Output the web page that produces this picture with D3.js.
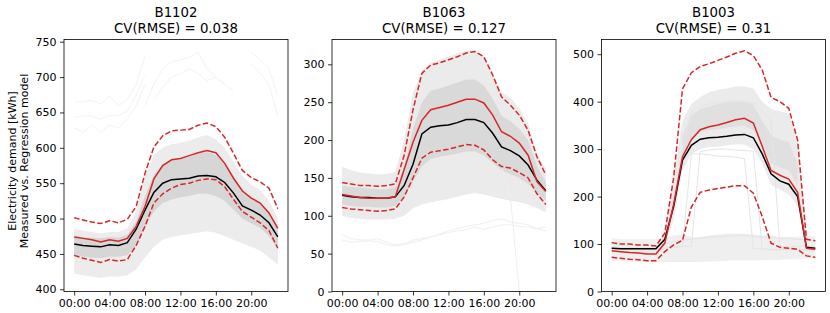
<!DOCTYPE html>
<html><head><meta charset="utf-8">
<script src="https://cdn.jsdelivr.net/npm/d3@7"></script>
<style>
body{margin:0;background:#fff}
svg{display:block}
text{font-family:"DejaVu Sans",sans-serif;fill:#000}
</style>
</head><body><svg id="c" width="830" height="313"></svg>
<script>
// ---------- data ----------
const hours = [0,1,2,3,4,5,6,7,8,9,10,11,12,13,14,15,16,17,18,19,20,21,22,23];
const xTickHours = [0,4,8,12,16,20];
const xTickLabels = ["00:00","04:00","08:00","12:00","16:00","20:00"];
const buildings = ["B1102","B1063","B1003"];
const cvrmse = ["0.038","0.127","0.31"];
const yLabelLines = ["Electricity demand [kWh]","Measured vs. Regression model"];

const yTicksB1102 = [400,450,500,550,600,650,700,750];
const yTicksB1063 = [0,50,100,150,200,250,300];
const yTicksB1003 = [0,100,200,300,400,500];

// B1102
const measuredB1102 = [464,462,461,460,463,462,466,485,512,537,550,555,556,557,560,561,559,551,536,518,512,505,494,474];
const modelB1102    = [474,472,470,467,470,468,472,489,517,556,575,583,585,589,593,596,593,578,557,539,529,522,508,486];
const upperB1102    = [501,498,495,493,497,494,499,517,564,601,617,624,625,626,632,635,630,615,592,568,558,552,543,514];
const lowerB1102    = [448,444,441,438,442,440,442,462,489,522,535,543,548,550,554,556,555,545,527,510,502,494,483,458];
const cloudLoB1102  = [422,420,418,416,418,418,420,428,445,460,470,474,476,478,480,482,480,475,470,465,460,455,445,435];
const cloudHiB1102  = [486,483,481,479,481,481,486,510,560,590,600,605,607,610,615,618,612,600,580,560,548,540,525,500];
const coreLoB1102   = [448,446,445,444,446,446,448,462,488,510,522,527,530,532,535,535,532,525,512,500,493,487,475,458];
const coreHiB1102   = [476,474,473,472,474,473,477,496,532,562,577,582,584,587,592,594,590,577,557,540,530,523,509,489];
const outlier1B1102 = [665,665,667,662,673,660,668,690,730,null,null,null,null,null,null,null,null,null,null,null,null,null,null,null];
const outlier2B1102 = [643,645,645,640,646,645,652,675,702,null,null,null,null,null,null,null,null,null,null,null,null,null,null,null];
const outlier3B1102 = [628,622,632,622,632,628,640,660,690,null,null,null,null,null,null,null,null,null,null,null,null,null,null,null];
const outlier4B1102 = [null,null,null,null,null,null,null,null,660,690,712,722,724,728,735,712,700,690,null,null,null,null,null,null];
const outlier5B1102 = [null,null,null,null,null,null,null,null,null,668,685,700,705,712,705,695,700,690,680,null,null,null,null,null];
const outlier6B1102 = [null,null,null,null,null,null,null,null,null,null,null,null,null,null,null,null,null,null,null,null,735,725,712,672];
const outlier7B1102 = [null,null,null,null,null,null,null,null,null,null,null,null,null,null,null,null,null,null,null,null,718,705,690,645];

// B1063
const measuredB1063 = [127,125,124,124,123,123,125,140,168,208,217,219,220,223,227,227,223,209,191,186,179,167,147,133];
const modelB1063    = [128,126,124,123,123,123,125,161,197,226,240,243,246,250,254,254,249,233,211,205,196,180,145,132];
const upperB1063    = [144,142,140,140,139,140,142,180,240,288,299,302,306,310,315,317,310,286,257,246,233,213,178,154];
const lowerB1063    = [111,109,108,107,106,107,109,125,150,176,184,186,188,191,194,193,187,174,165,163,157,150,129,115];
const cloudLoB1063  = [100,97,96,95,95,95,96,100,110,115,118,120,122,125,128,130,128,125,122,120,118,115,110,105];
const cloudHiB1063  = [165,160,157,156,155,155,158,200,262,292,302,306,310,315,318,318,310,286,263,256,242,222,182,162];
const coreLoB1063   = [115,113,112,112,111,111,113,125,145,165,175,178,180,182,185,185,180,170,160,155,150,142,130,120];
const coreHiB1063   = [140,138,137,136,135,135,138,165,215,250,265,268,272,276,280,280,272,255,232,225,215,200,165,145];
const outlier1B1063 = [75,70,68,68,70,65,62,63,68,70,72,75,78,80,82,85,82,85,88,88,86,85,83,85];
const outlier2B1063 = [68,65,66,67,66,62,60,62,65,68,72,76,80,83,86,88,90,94,96,92,90,88,83,80];
const outlier3B1063 = [null,null,null,null,null,null,null,null,null,null,null,null,null,null,null,null,null,null,165,125,0,null,null,null];

// B1003
const measuredB1003 = [91,90,90,90,90,90,110,179,277,308,321,324,325,327,330,331,324,290,248,233,226,200,93,91];
const modelB1003    = [86,84,82,81,79,79,102,184,284,320,341,347,351,356,362,365,355,306,255,245,237,209,91,89];
const upperB1003    = [103,100,100,98,98,96,123,240,427,461,474,480,487,494,502,507,497,467,409,400,386,319,110,107];
const lowerB1003    = [72,70,68,67,65,65,84,98,108,178,209,214,217,220,223,223,207,158,102,93,91,89,75,72];
const lowLoB1003    = [65,64,63,62,62,62,62,62,62,62,62,63,64,65,65,65,65,66,66,67,68,68,70,72];
const lowHiB1003    = [112,110,110,110,110,110,115,118,120,115,115,118,120,122,122,122,120,118,118,115,115,115,118,115];
const cloudLoB1003  = [null,null,null,null,null,null,100,150,255,290,300,305,305,308,310,310,300,270,225,215,205,180,95,null];
const cloudHiB1003  = [null,null,null,null,null,null,125,240,360,395,410,420,425,428,432,432,428,400,385,380,375,320,115,null];
const coreLoB1003   = [null,null,null,null,null,null,null,null,285,320,335,340,342,345,348,348,340,310,270,262,255,225,null,null];
const coreHiB1003   = [null,null,null,null,null,null,null,null,330,370,385,390,395,398,400,400,395,360,330,320,315,270,null,null];
const outlier1B1003 = [90,90,88,88,88,88,92,95,95,95,295,298,300,300,298,297,296,90,88,88,90,90,88,88];
const outlier2B1003 = [95,92,92,92,92,92,110,200,300,380,390,395,398,400,402,400,398,380,360,95,95,95,95,95];
const outlier3B1003 = [85,85,84,84,84,84,90,92,95,290,290,288,285,285,283,280,90,90,88,88,88,88,87,86];
const outlier4B1003 = [100,98,97,97,97,97,100,105,108,110,112,115,115,117,118,118,116,115,114,112,112,110,108,106];

// ---------- layout ----------
const panelLefts = [64, 332, 601.5];
const panelW = 224, plotTop = 39.5, plotBottom = 291.5;
const yDomains = [[396.9, 753.1], [0, 332.8], [0, 531]];
const xDomain = [-1.15, 24.15];

const panels = [
  {name: buildings[0], cv: cvrmse[0], yTicks: yTicksB1102, measured: measuredB1102, model: modelB1102, upper: upperB1102, lower: lowerB1102,
   bands: [[cloudLoB1102, cloudHiB1102, "#ececec"], [coreLoB1102, coreHiB1102, "#d6d6d6"]],
   outliers: [outlier1B1102, outlier2B1102, outlier3B1102, outlier4B1102, outlier5B1102, outlier6B1102, outlier7B1102],
   outlierColor: "#f3f3f3"},
  {name: buildings[1], cv: cvrmse[1], yTicks: yTicksB1063, measured: measuredB1063, model: modelB1063, upper: upperB1063, lower: lowerB1063,
   bands: [[cloudLoB1063, cloudHiB1063, "#ebebeb"], [coreLoB1063, coreHiB1063, "#d9d9d9"]],
   outliers: [outlier1B1063, outlier2B1063, outlier3B1063],
   outlierColor: "#eeeeee"},
  {name: buildings[2], cv: cvrmse[2], yTicks: yTicksB1003, measured: measuredB1003, model: modelB1003, upper: upperB1003, lower: lowerB1003,
   bands: [[lowLoB1003, lowHiB1003, "#efefef"], [cloudLoB1003, cloudHiB1003, "#ebebeb"], [coreLoB1003, coreHiB1003, "#e0e0e0"]],
   outliers: [outlier1B1003, outlier2B1003, outlier3B1003, outlier4B1003],
   outlierColor: "#e4e4e4"}
];

const svg = d3.select("#c");
const red = "#d62728";

panels.forEach((p, i) => {
  const left = panelLefts[i];
  const x = d3.scaleLinear().domain(xDomain).range([left, left + panelW]);
  const y = d3.scaleLinear().domain(yDomains[i]).range([plotBottom, plotTop]);
  const g = svg.append("g");

  const clipId = "clip" + i;
  svg.append("clipPath").attr("id", clipId).append("rect")
    .attr("x", left).attr("y", plotTop).attr("width", panelW).attr("height", plotBottom - plotTop);
  const plot = g.append("g").attr("clip-path", `url(#${clipId})`);

  p.bands.forEach(([lo, hi, col]) => {
    const area = d3.area()
      .defined((d, k) => lo[k] != null && hi[k] != null)
      .x((d, k) => x(hours[k])).y0((d, k) => y(lo[k])).y1((d, k) => y(hi[k]));
    plot.append("path").datum(hours).attr("d", area).attr("fill", col).attr("stroke", "none");
  });

  const line = arr => d3.line()
    .defined((d, k) => arr[k] != null)
    .x((d, k) => x(hours[k])).y((d, k) => y(arr[k]))(hours);

  p.outliers.forEach(o => {
    plot.append("path").attr("d", line(o)).attr("fill", "none")
      .attr("stroke", p.outlierColor).attr("stroke-width", 1);
  });

  plot.append("path").attr("d", line(p.measured)).attr("fill", "none").attr("stroke", "#000").attr("stroke-width", 1.5);
  plot.append("path").attr("d", line(p.model)).attr("fill", "none").attr("stroke", red).attr("stroke-width", 1.5);
  [p.upper, p.lower].forEach(arr => {
    plot.append("path").attr("d", line(arr)).attr("fill", "none").attr("stroke", red)
      .attr("stroke-width", 1.5).attr("stroke-dasharray", "5.5,2.4");
  });

  const yAxis = d3.axisLeft(y).tickValues(p.yTicks).tickSize(4).tickPadding(3.5).tickFormat(d3.format("d"));
  const ya = g.append("g").attr("transform", `translate(${left},0)`).call(yAxis);
  const xAxis = d3.axisBottom(x).tickValues(xTickHours).tickSize(4).tickPadding(3.5)
    .tickFormat((d, k) => xTickLabels[k]);
  const xa = g.append("g").attr("transform", `translate(0,${plotBottom})`).call(xAxis);
  [ya, xa].forEach(a => {
    a.select(".domain").remove();
    a.selectAll("line").attr("stroke", "#000").attr("stroke-width", 0.8);
    a.selectAll("text").attr("font-size", "11px").attr("font-family", "DejaVu Sans").attr("fill", "#000");
  });

  g.append("rect").attr("x", left).attr("y", plotTop).attr("width", panelW).attr("height", plotBottom - plotTop)
    .attr("fill", "none").attr("stroke", "#000").attr("stroke-width", 0.8);

  const cx = left + panelW / 2;
  g.append("text").attr("x", cx).attr("y", 17.3).attr("text-anchor", "middle").attr("font-size", "13.3px").text(p.name);
  g.append("text").attr("x", cx).attr("y", 32.8).attr("text-anchor", "middle").attr("font-size", "13.3px").text(`CV(RMSE) = ${p.cv}`);
});

const yl = svg.append("g");
yl.append("text").attr("transform", "translate(15.5,161) rotate(-90)").attr("text-anchor", "middle").attr("font-size", "11px").text(yLabelLines[0]);
yl.append("text").attr("transform", "translate(28,161) rotate(-90)").attr("text-anchor", "middle").attr("font-size", "11px").text(yLabelLines[1]);
</script>
</body></html>
